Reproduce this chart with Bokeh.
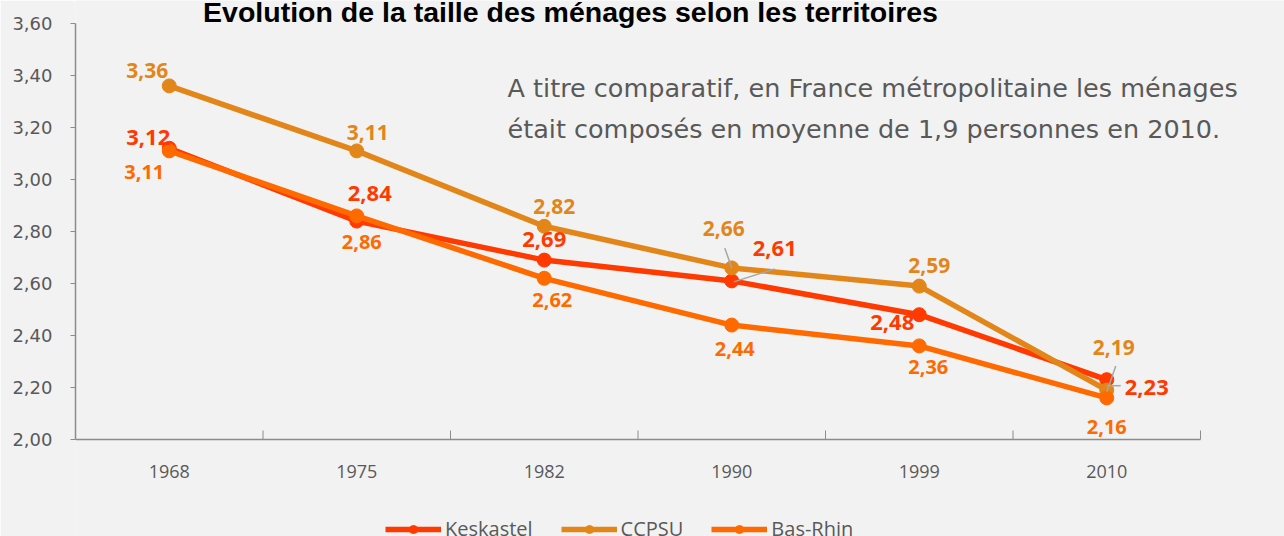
from bokeh.plotting import figure
from bokeh.models import (ColumnDataSource, FixedTicker, Range1d, Label, Legend, LegendItem)
from bokeh.core.properties import value
from bokeh.embed import file_html
from bokeh.resources import INLINE

years = ["1968", "1975", "1982", "1990", "1999", "2010"]
keskastel = [3.12, 2.84, 2.69, 2.61, 2.48, 2.23]
ccpsu = [3.36, 3.11, 2.82, 2.66, 2.59, 2.19]
bas_rhin = [3.11, 2.86, 2.62, 2.44, 2.36, 2.16]
y_ticks = [2.0, 2.2, 2.4, 2.6, 2.8, 3.0, 3.2, 3.4, 3.6]

title_text = "Evolution de la taille des ménages selon les territoires"
note_lines = ["A titre comparatif, en France métropolitaine les ménages",
              "était composés en moyenne de 1,9 personnes en 2010."]

BG = "#f2f2f2"
GRAY = "#595959"
AX = "#8c8c8c"

series = [
    ("Keskastel", keskastel, "#ff3a00", 22,
     [(-21, -11), (13, -28), (0, -21), (43, -32), (-27, 8), (40, 8)]),
    ("CCPSU", ccpsu, "#e3861a", 21,
     [(-22, -15), (11, -18), (10, -20), (-8, -39), (10, -21), (7, -43)]),
    ("Bas-Rhin", bas_rhin, "#ff6a00", 20,
     [(-25, 21), (5, 26), (8, 22), (3, 24), (9, 21), (0, 29)]),
]

# geometry (pixels): axis box 75..1200 x 23..439 on a 1284x536 canvas
W, H = 1284, 536
LEFT, RIGHT_AX, TOP_AX, BOTTOM = 75, 1200, 23, 439
n = len(years)
ymin, ymax = y_ticks[0], y_ticks[-1]
px_x = (RIGHT_AX - LEFT) / n
px_y = (BOTTOM - TOP_AX) / (ymax - ymin)
x_end = (W - LEFT) / px_x
y_start = ymin - (H - BOTTOM) / px_y
y_end = ymin + BOTTOM / px_y

p = figure(width=W, height=H, output_backend="svg", toolbar_location=None,
           x_axis_location=None,
           x_range=Range1d(0, x_end), y_range=Range1d(y_start, y_end),
           min_border_left=LEFT, min_border_right=0, min_border_top=0,
           min_border_bottom=0)
p.title.visible = False
p.background_fill_color = BG
p.border_fill_color = BG
p.outline_line_color = None
p.grid.visible = False

xs = [i + 0.5 for i in range(n)]
bounds = list(range(n + 1))

# category axis: baseline, boundary ticks and year labels
p.segment(x0=[bounds[0]], y0=[ymin], x1=[bounds[-1]], y1=[ymin], line_color=AX, line_width=1.5)
p.segment(x0=bounds, y0=[ymin] * len(bounds), x1=bounds, y1=[ymin + 9 / px_y] * len(bounds),
          line_color=AX, line_width=1)
p.text(x=xs, y=[ymin] * n, text=years, y_offset=32, text_color=GRAY,
       text_font=value("Open Sans"), text_font_size="18px",
       text_align="center", text_baseline="middle")

p.yaxis.bounds = (ymin, ymax)
p.yaxis.ticker = FixedTicker(ticks=y_ticks, minor_ticks=[])
p.yaxis.major_label_overrides = {t: f"{t:.2f}".replace(".", ",") for t in y_ticks}
p.yaxis.major_tick_in = 0
p.yaxis.major_tick_out = 5
p.yaxis.major_tick_line_color = AX
p.yaxis.axis_line_color = AX
p.yaxis.axis_line_width = 1.5
p.yaxis.major_label_text_color = GRAY
p.yaxis.major_label_text_font = "DejaVu Sans"
p.yaxis.major_label_text_font_size = "18px"
p.yaxis.major_label_standoff = 18

items = []
for name, vals, col, fs, offs in series:
    src = ColumnDataSource(dict(x=xs, y=vals))
    ln = p.line("x", "y", source=src, line_color=col, line_width=5.5)
    sc = p.scatter("x", "y", source=src, size=14, fill_color=col, line_color=col)
    items.append(LegendItem(label=name, renderers=[ln, sc]))

# leader lines (pixel offsets converted to data units)
leaders = [
    (keskastel, 3, (2, -1), (43, 12)),
    (keskastel, 5, (0, -6), (14, -6)),
    (ccpsu, 3, (-7, 20), (0, 0)),
    (ccpsu, 5, (9, 24), (0, -2)),
]
for vals, i, (dx0, dy0), (dx1, dy1) in leaders:
    p.segment(x0=[xs[i] + dx0 / px_x], y0=[vals[i] + dy0 / px_y],
              x1=[xs[i] + dx1 / px_x], y1=[vals[i] + dy1 / px_y],
              line_color="#a6a6a6", line_width=1.5)

for name, vals, col, fs, offs in series:
    src = ColumnDataSource(dict(x=xs, y=vals,
                                t=[f"{v:.2f}".replace(".", ",") for v in vals],
                                xo=[o[0] for o in offs], yo=[o[1] for o in offs]))
    p.text("x", "y", text="t", source=src, x_offset="xo", y_offset="yo",
           text_color=col, text_font=value("Open Sans"), text_font_style="bold",
           text_font_size=f"{fs}px", text_align="center", text_baseline="middle")

legend = Legend(items=items, orientation="horizontal", location=(310, -6),
                background_fill_alpha=0, border_line_color=None,
                label_text_color=GRAY, label_text_font="Open Sans",
                label_text_font_size="20px", glyph_width=56, glyph_height=20,
                label_standoff=4, spacing=28, padding=0, margin=0)
p.add_layout(legend, "center")

p.add_layout(Label(x=(570 - LEFT) / px_x, y=ymin + (BOTTOM - 11) / px_y, text=title_text,
                   text_font="Liberation Sans", text_font_style="bold",
                   text_font_size="28.5px", text_color="#000000",
                   text_align="center", text_baseline="alphabetic"))
for k, line in enumerate(note_lines):
    p.add_layout(Label(x=(507 - LEFT) / px_x, y=ymin + (BOTTOM - (87 + 41 * k)) / px_y,
                       text=line, text_font="DejaVu Sans", text_font_size="25.5px",
                       text_color=GRAY, text_align="left", text_baseline="middle"))

open("out.html", "w").write(file_html(p, INLINE))
